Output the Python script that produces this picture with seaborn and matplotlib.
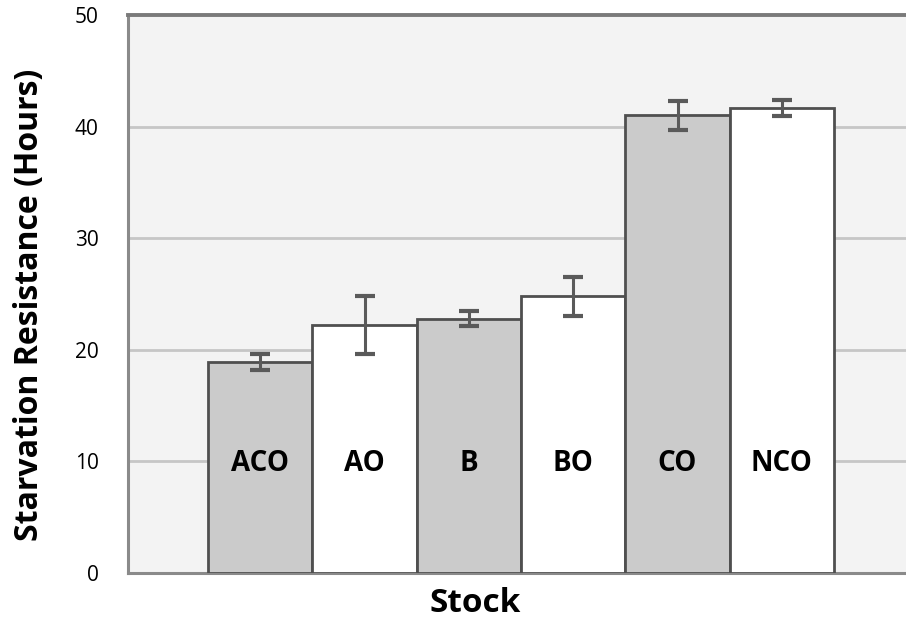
import matplotlib
matplotlib.use("Agg")
import matplotlib.pyplot as plt
import seaborn as sns
import pandas as pd

stocks = ["ACO", "AO", "B", "BO", "CO", "NCO"]
hours = [18.9, 22.2, 22.8, 24.8, 41.0, 41.65]
errors = [0.75, 2.6, 0.65, 1.75, 1.3, 0.7]
bar_colors = ["#cbcbcb", "#ffffff", "#cbcbcb", "#ffffff", "#cbcbcb", "#ffffff"]
y_ticks = [0, 10, 20, 30, 40, 50]

sns.set_theme(style="white")
plt.rcParams["font.family"] = ["Open Sans", "DejaVu Sans"]

df = pd.DataFrame({"Stock": stocks, "Hours": hours})

fig = plt.figure(figsize=(9.06, 6.25), dpi=100)
ax = fig.add_axes([128 / 906, 52 / 625, (906 - 128) / 906, 558 / 625])
ax.set_facecolor("#f3f3f3")

sns.barplot(data=df, x="Stock", y="Hours", hue="Stock", palette=bar_colors,
            width=1.0, edgecolor="#4f4f4f", linewidth=2, legend=False,
            errorbar=None, ax=ax, zorder=3)

centers = [p.get_x() + p.get_width() / 2 for p in ax.patches]
heights = [p.get_height() for p in ax.patches]
ax.errorbar(centers, heights, yerr=errors, fmt="none", ecolor="#5a5a5a",
            elinewidth=2.2, capsize=7, capthick=3, zorder=4)

for c, name in zip(centers, stocks):
    ax.text(c, 9.8, name, ha="center", va="center", fontsize=20,
            fontweight="bold", color="black", zorder=5)

ax.set_ylim(0, 50)
ax.set_xlim(-1.267, 6.19)
ax.set_yticks(y_ticks)
ax.set_yticklabels([str(t) for t in y_ticks], fontsize=15, color="black")
ax.set_xticks([])
ax.tick_params(axis="y", length=0, pad=21)
for t in y_ticks[1:-1]:
    ax.axhline(t, color="#c6c6c6", linewidth=2, zorder=1)

for s in ["left", "bottom", "top"]:
    ax.spines[s].set_visible(True)
    ax.spines[s].set_color("#8a8a8a")
    ax.spines[s].set_linewidth(2.2)
ax.spines["top"].set_color("#7a7a7a")
ax.spines["top"].set_linewidth(2.8)
ax.spines["right"].set_visible(False)

ax.set_xlabel("")
ax.set_ylabel("")
fig.text(475 / 906, 1 - 603 / 625, "Stock", ha="center", va="center",
         fontsize=24, fontweight="bold", color="black")
fig.text(30 / 906, 1 - 305 / 625, "Starvation Resistance (Hours)", ha="center",
         va="center", rotation=90, fontsize=23, fontweight="bold", color="black")

fig.savefig("out.png", dpi=100)
